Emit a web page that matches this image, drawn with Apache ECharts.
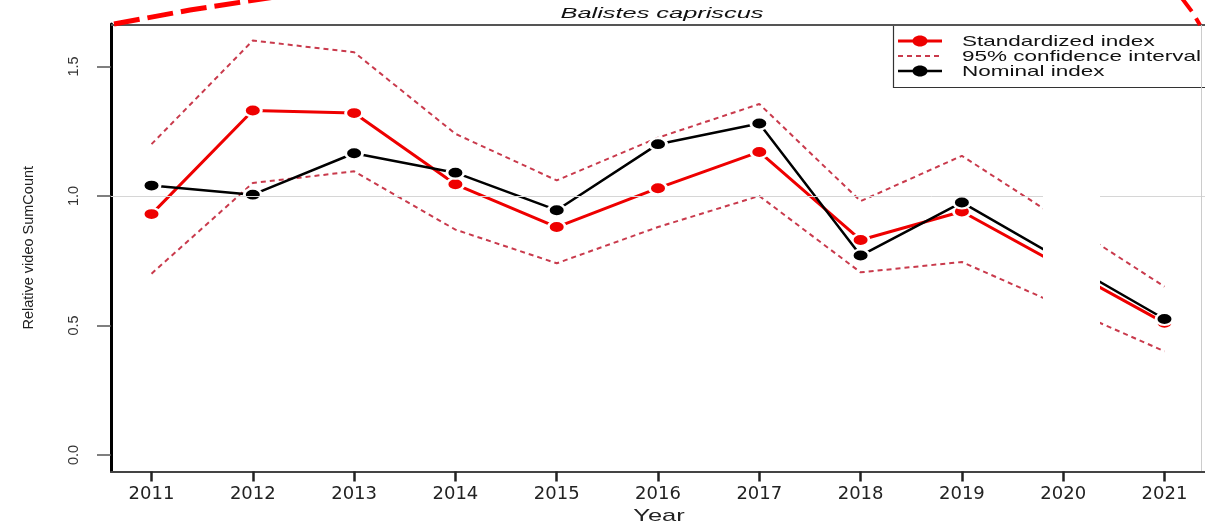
<!DOCTYPE html>
<html>
<head>
<meta charset="utf-8">
<script src="https://cdn.jsdelivr.net/npm/echarts@6/dist/echarts.min.js"></script>
<style>
html,body{margin:0;padding:0;background:#fff;}
#chart{width:1205px;height:526px;}
</style>
</head>
<body>
<div id="chart"></div>
<script>
// ---- data ----
const years = [2011, 2012, 2013, 2014, 2015, 2016, 2017, 2018, 2019, 2020, 2021];
const standardized = [0.93, 1.33, 1.32, 1.045, 0.88, 1.03, 1.17, 0.83, 0.94, null, 0.51];
const nominal      = [1.04, 1.005, 1.165, 1.09, 0.945, 1.2, 1.28, 0.77, 0.975, null, 0.525];
const ciUpper      = [1.20, 1.60, 1.555, 1.24, 1.06, 1.225, 1.355, 0.98, 1.155, null, 0.65];
const ciLower      = [0.70, 1.05, 1.095, 0.87, 0.74, 0.88, 1.0, 0.705, 0.745, null, 0.40];
const yTicks = [0, 0.5, 1.0, 1.5];
const xTicks = years;
const titleText = 'Balistes capriscus';
const yName = 'Relative video SumCount';
const xName = 'Year';
const legendNames = ['Standardized index', '95% confidence interval', 'Nominal index'];

function pairs(vals) { return years.map((y, i) => [y, vals[i]]); }

const sans = "'Liberation Sans','DejaVu Sans',sans-serif";
const wide = "'DejaVu Sans','Liberation Sans',sans-serif";
const RED = '#ee0000', CI = '#c93a4c';

const chart = echarts.init(document.getElementById('chart'), null, {renderer: 'canvas'});
chart.setOption({
  animation: false,
  backgroundColor: '#fff',
  grid: {left: 111, right: 0, top: 24, height: 447.5, containLabel: false, outerBoundsMode: 'none'},
  xAxis: {
    type: 'value', min: 2010.6, max: 2021.4,
    axisLine: {show: true, onZero: false, lineStyle: {color: '#444', width: 2}},
    axisTick: {show: true, length: 10, customValues: xTicks, lineStyle: {color: '#222', width: 2.5}},
    axisLabel: {customValues: xTicks, margin: 14, fontFamily: wide, fontSize: 18, color: '#222', formatter: v => String(v)},
    splitLine: {show: false}
  },
  yAxis: {
    type: 'value', min: -0.064, max: 1.664,
    name: yName, nameLocation: 'middle', nameGap: 75, nameRotate: 90,
    nameTextStyle: {fontFamily: sans, fontSize: 14.5, color: '#222'},
    axisLine: {show: true, onZero: false, lineStyle: {color: '#000', width: 3}},
    axisTick: {show: true, length: 14, customValues: yTicks, lineStyle: {color: '#555', width: 1.5}},
    axisLabel: {customValues: yTicks, rotate: 90, margin: 30, fontFamily: sans, fontSize: 14.5, color: '#333', formatter: v => v.toFixed(1)},
    splitLine: {show: false}
  },
  series: [
    {
      name: 'ref', type: 'line', data: [], z: 1, silent: true,
      markLine: {silent: true, symbol: 'none', label: {show: false},
        lineStyle: {color: '#d6d6d6', width: 1, type: 'solid'},
        data: [{yAxis: 1.0}]}
    },
    {
      name: legendNames[1], type: 'line', data: pairs(ciUpper), connectNulls: true,
      showSymbol: false, symbol: 'none', z: 2,
      lineStyle: {color: CI, width: 2, type: [5, 4]}, itemStyle: {color: CI}
    },
    {
      name: legendNames[1], type: 'line', data: pairs(ciLower), connectNulls: true,
      showSymbol: false, symbol: 'none', z: 2,
      lineStyle: {color: CI, width: 2, type: [5, 4]}, itemStyle: {color: CI}
    },
    {
      name: legendNames[0], type: 'line', data: pairs(standardized), connectNulls: true,
      symbol: 'circle', symbolSize: [17, 12], z: 3,
      lineStyle: {color: RED, width: 3},
      itemStyle: {color: RED, borderColor: '#fff', borderWidth: 2.5}
    },
    {
      name: legendNames[2], type: 'line', data: pairs(nominal), connectNulls: true,
      symbol: 'circle', symbolSize: [17, 12], z: 4,
      lineStyle: {color: '#000', width: 2.5},
      itemStyle: {color: '#000', borderColor: '#fff', borderWidth: 2.5}
    }
  ],
  graphic: [
    {type: 'rect', shape: {x: 1043, y: 188, width: 57, height: 152}, style: {fill: '#fff'}, z: 50},
    {type: 'line', shape: {x1: 111, y1: 25, x2: 1205, y2: 25}, style: {stroke: '#555', lineWidth: 2}, z: 60},
    {type: 'line', shape: {x1: 1201.5, y1: 25, x2: 1201.5, y2: 471}, style: {stroke: '#ccc', lineWidth: 1}, z: 60},
    // legend box and entries
    {type: 'rect', shape: {x: 893.5, y: 25, width: 320, height: 62.5}, style: {fill: '#fff', stroke: '#333', lineWidth: 1.2}, z: 55},
    {type: 'line', shape: {x1: 898, y1: 41, x2: 942, y2: 41}, style: {stroke: RED, lineWidth: 3}, z: 61},
    {type: 'ellipse', shape: {cx: 920, cy: 41, rx: 7.5, ry: 5.5}, style: {fill: RED}, z: 62},
    {type: 'line', shape: {x1: 898, y1: 56, x2: 942, y2: 56}, style: {stroke: CI, lineWidth: 2, lineDash: [5, 4]}, z: 61},
    {type: 'line', shape: {x1: 898, y1: 71, x2: 942, y2: 71}, style: {stroke: '#000', lineWidth: 2.5}, z: 61},
    {type: 'ellipse', shape: {cx: 920, cy: 71, rx: 7.5, ry: 5.5}, style: {fill: '#000'}, z: 62},
    {type: 'text', x: 962, y: 41.5, scaleX: 1.5, style: {text: legendNames[0], font: "15px 'Liberation Sans','DejaVu Sans',sans-serif", fill: '#111', align: 'left', verticalAlign: 'middle'}, z: 62},
    {type: 'text', x: 962, y: 56.5, scaleX: 1.5, style: {text: legendNames[1], font: "15px 'Liberation Sans','DejaVu Sans',sans-serif", fill: '#111', align: 'left', verticalAlign: 'middle'}, z: 62},
    {type: 'text', x: 962, y: 71.5, scaleX: 1.5, style: {text: legendNames[2], font: "15px 'Liberation Sans','DejaVu Sans',sans-serif", fill: '#111', align: 'left', verticalAlign: 'middle'}, z: 62},
    // title and x-axis name
    {type: 'text', x: 662, y: 14, scaleX: 1.75, style: {text: titleText, font: "italic 14.5px 'Liberation Sans','DejaVu Sans',sans-serif", fill: '#111', align: 'center', verticalAlign: 'middle'}, z: 60},
    {type: 'text', x: 659, y: 516, scaleX: 1.5, style: {text: xName, font: "17px 'Liberation Sans','DejaVu Sans',sans-serif", fill: '#222', align: 'center', verticalAlign: 'middle'}, z: 60},
    // red dashed annotation fragments
    {type: 'polyline', shape: {points: [[114, 24], [190, 10], [275, -3]]}, style: {stroke: '#ff0000', lineWidth: 5, lineDash: [26, 8], fill: null}, z: 70},
    {type: 'polyline', shape: {points: [[1181, -3], [1193, 13], [1200, 25]]}, style: {stroke: '#ff0000', lineWidth: 4, lineDash: [18, 8], fill: null}, z: 70}
  ]
});
</script>
</body>
</html>
